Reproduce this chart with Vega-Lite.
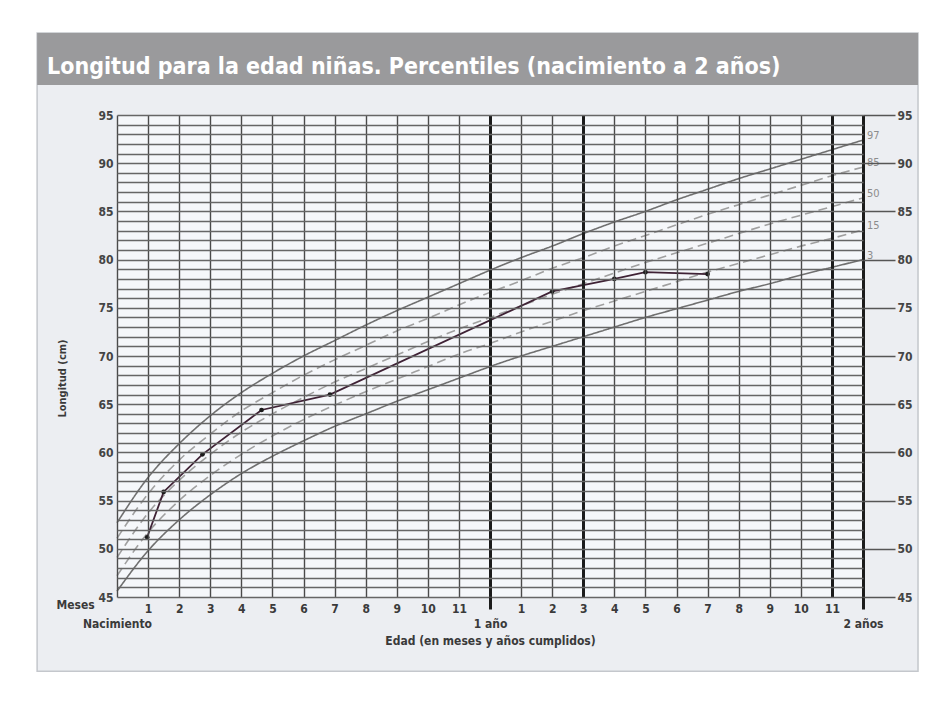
{
  "$schema": "https://vega.github.io/schema/vega-lite/v6.json",
  "width": 746,
  "height": 482,
  "autosize": {"type": "none"},
  "padding": {"left": 117, "top": 115, "right": 63, "bottom": 123},
  "background": "#ffffff",
  "view": {"stroke": null},
  "config": {
    "font": "Liberation Sans Narrow, DejaVu Sans Condensed, sans-serif"
  },
  "title": {
    "text": "Longitud para la edad niñas. Percentiles (nacimiento a 2 años)",
    "color": "#ffffff",
    "fontSize": 23,
    "fontWeight": "bold",
    "font": "Liberation Sans Narrow, DejaVu Sans Condensed, sans-serif",
    "anchor": "start",
    "frame": "group",
    "baseline": "alphabetic",
    "dx": -70,
    "dy": 65,
    "offset": 0
  },
  "datasets": {
    "curves": [
      {"pct": "3", "month": 0, "cm": 45.6}, {"pct": "3", "month": 1, "cm": 49.8}, {"pct": "3", "month": 2, "cm": 53.0}, {"pct": "3", "month": 3, "cm": 55.6}, {"pct": "3", "month": 4, "cm": 57.8}, {"pct": "3", "month": 5, "cm": 59.6}, {"pct": "3", "month": 6, "cm": 61.2}, {"pct": "3", "month": 7, "cm": 62.7}, {"pct": "3", "month": 8, "cm": 64.0}, {"pct": "3", "month": 9, "cm": 65.3}, {"pct": "3", "month": 10, "cm": 66.5}, {"pct": "3", "month": 11, "cm": 67.7}, {"pct": "3", "month": 12, "cm": 68.9}, {"pct": "3", "month": 13, "cm": 70.0}, {"pct": "3", "month": 14, "cm": 71.0}, {"pct": "3", "month": 15, "cm": 72.0}, {"pct": "3", "month": 16, "cm": 73.0}, {"pct": "3", "month": 17, "cm": 74.0}, {"pct": "3", "month": 18, "cm": 74.9}, {"pct": "3", "month": 19, "cm": 75.8}, {"pct": "3", "month": 20, "cm": 76.7}, {"pct": "3", "month": 21, "cm": 77.5}, {"pct": "3", "month": 22, "cm": 78.4}, {"pct": "3", "month": 23, "cm": 79.2}, {"pct": "3", "month": 24, "cm": 80.0},
      {"pct": "15", "month": 0, "cm": 47.2}, {"pct": "15", "month": 1, "cm": 51.7}, {"pct": "15", "month": 2, "cm": 55.0}, {"pct": "15", "month": 3, "cm": 57.6}, {"pct": "15", "month": 4, "cm": 59.8}, {"pct": "15", "month": 5, "cm": 61.7}, {"pct": "15", "month": 6, "cm": 63.4}, {"pct": "15", "month": 7, "cm": 64.9}, {"pct": "15", "month": 8, "cm": 66.3}, {"pct": "15", "month": 9, "cm": 67.6}, {"pct": "15", "month": 10, "cm": 68.9}, {"pct": "15", "month": 11, "cm": 70.2}, {"pct": "15", "month": 12, "cm": 71.3}, {"pct": "15", "month": 13, "cm": 72.5}, {"pct": "15", "month": 14, "cm": 73.6}, {"pct": "15", "month": 15, "cm": 74.7}, {"pct": "15", "month": 16, "cm": 75.7}, {"pct": "15", "month": 17, "cm": 76.7}, {"pct": "15", "month": 18, "cm": 77.7}, {"pct": "15", "month": 19, "cm": 78.7}, {"pct": "15", "month": 20, "cm": 79.6}, {"pct": "15", "month": 21, "cm": 80.5}, {"pct": "15", "month": 22, "cm": 81.4}, {"pct": "15", "month": 23, "cm": 82.2}, {"pct": "15", "month": 24, "cm": 83.1},
      {"pct": "50", "month": 0, "cm": 49.1}, {"pct": "50", "month": 1, "cm": 53.7}, {"pct": "50", "month": 2, "cm": 57.1}, {"pct": "50", "month": 3, "cm": 59.8}, {"pct": "50", "month": 4, "cm": 62.1}, {"pct": "50", "month": 5, "cm": 64.0}, {"pct": "50", "month": 6, "cm": 65.7}, {"pct": "50", "month": 7, "cm": 67.3}, {"pct": "50", "month": 8, "cm": 68.7}, {"pct": "50", "month": 9, "cm": 70.1}, {"pct": "50", "month": 10, "cm": 71.5}, {"pct": "50", "month": 11, "cm": 72.8}, {"pct": "50", "month": 12, "cm": 74.0}, {"pct": "50", "month": 13, "cm": 75.2}, {"pct": "50", "month": 14, "cm": 76.4}, {"pct": "50", "month": 15, "cm": 77.5}, {"pct": "50", "month": 16, "cm": 78.6}, {"pct": "50", "month": 17, "cm": 79.7}, {"pct": "50", "month": 18, "cm": 80.7}, {"pct": "50", "month": 19, "cm": 81.7}, {"pct": "50", "month": 20, "cm": 82.7}, {"pct": "50", "month": 21, "cm": 83.7}, {"pct": "50", "month": 22, "cm": 84.6}, {"pct": "50", "month": 23, "cm": 85.5}, {"pct": "50", "month": 24, "cm": 86.4},
      {"pct": "85", "month": 0, "cm": 51.1}, {"pct": "85", "month": 1, "cm": 55.7}, {"pct": "85", "month": 2, "cm": 59.2}, {"pct": "85", "month": 3, "cm": 61.9}, {"pct": "85", "month": 4, "cm": 64.3}, {"pct": "85", "month": 5, "cm": 66.2}, {"pct": "85", "month": 6, "cm": 68.0}, {"pct": "85", "month": 7, "cm": 69.6}, {"pct": "85", "month": 8, "cm": 71.1}, {"pct": "85", "month": 9, "cm": 72.6}, {"pct": "85", "month": 10, "cm": 73.9}, {"pct": "85", "month": 11, "cm": 75.3}, {"pct": "85", "month": 12, "cm": 76.6}, {"pct": "85", "month": 13, "cm": 77.8}, {"pct": "85", "month": 14, "cm": 79.1}, {"pct": "85", "month": 15, "cm": 80.2}, {"pct": "85", "month": 16, "cm": 81.4}, {"pct": "85", "month": 17, "cm": 82.5}, {"pct": "85", "month": 18, "cm": 83.6}, {"pct": "85", "month": 19, "cm": 84.7}, {"pct": "85", "month": 20, "cm": 85.7}, {"pct": "85", "month": 21, "cm": 86.7}, {"pct": "85", "month": 22, "cm": 87.7}, {"pct": "85", "month": 23, "cm": 88.7}, {"pct": "85", "month": 24, "cm": 89.6},
      {"pct": "97", "month": 0, "cm": 52.7}, {"pct": "97", "month": 1, "cm": 57.4}, {"pct": "97", "month": 2, "cm": 60.9}, {"pct": "97", "month": 3, "cm": 63.8}, {"pct": "97", "month": 4, "cm": 66.2}, {"pct": "97", "month": 5, "cm": 68.2}, {"pct": "97", "month": 6, "cm": 70.0}, {"pct": "97", "month": 7, "cm": 71.6}, {"pct": "97", "month": 8, "cm": 73.2}, {"pct": "97", "month": 9, "cm": 74.7}, {"pct": "97", "month": 10, "cm": 76.1}, {"pct": "97", "month": 11, "cm": 77.5}, {"pct": "97", "month": 12, "cm": 78.9}, {"pct": "97", "month": 13, "cm": 80.2}, {"pct": "97", "month": 14, "cm": 81.4}, {"pct": "97", "month": 15, "cm": 82.7}, {"pct": "97", "month": 16, "cm": 83.9}, {"pct": "97", "month": 17, "cm": 85.0}, {"pct": "97", "month": 18, "cm": 86.2}, {"pct": "97", "month": 19, "cm": 87.3}, {"pct": "97", "month": 20, "cm": 88.4}, {"pct": "97", "month": 21, "cm": 89.4}, {"pct": "97", "month": 22, "cm": 90.4}, {"pct": "97", "month": 23, "cm": 91.4}, {"pct": "97", "month": 24, "cm": 92.4}
    ],
    "child": [
      {"month": 0.97, "cm": 51.2},
      {"month": 1.5, "cm": 55.9},
      {"month": 2.75, "cm": 59.8},
      {"month": 4.65, "cm": 64.4},
      {"month": 6.85, "cm": 66.0},
      {"month": 14.0, "cm": 76.7},
      {"month": 16.0, "cm": 78.0},
      {"month": 17.0, "cm": 78.7},
      {"month": 19.0, "cm": 78.5}
    ]
  },
  "resolve": {"axis": {"x": "independent", "y": "independent"}},
  "layer": [
    {
      "data": {"values": [{}]},
      "mark": {"type": "rect", "fill": "#eceef2", "stroke": "#c4c7cc", "strokeWidth": 1.5},
      "encoding": {
        "x": {"datum": -2.57, "type": "quantitative", "scale": {"domain": [0, 24], "nice": false, "zero": false}, "axis": null},
        "x2": {"datum": 25.77},
        "y": {"datum": 103.5, "type": "quantitative", "scale": {"domain": [45, 95], "nice": false, "zero": false}, "axis": null},
        "y2": {"datum": 37.3}
      }
    },
    {
      "data": {"values": [{}]},
      "mark": {"type": "rect", "fill": "#9a9a9c"},
      "encoding": {
        "x": {"datum": -2.57, "type": "quantitative", "scale": {"domain": [0, 24], "nice": false, "zero": false}, "axis": null},
        "x2": {"datum": 25.77},
        "y": {"datum": 103.5, "type": "quantitative", "scale": {"domain": [45, 95], "nice": false, "zero": false}, "axis": null},
        "y2": {"datum": 98.1}
      }
    },
    {
      "data": {"values": [{}]},
      "mark": {"type": "rect", "fill": "#f5f7fa"},
      "encoding": {
        "x": {"datum": 0, "type": "quantitative", "scale": {"domain": [0, 24], "nice": false, "zero": false}, "axis": null},
        "x2": {"datum": 24},
        "y": {"datum": 95, "type": "quantitative", "scale": {"domain": [45, 95], "nice": false, "zero": false}, "axis": null},
        "y2": {"datum": 45}
      }
    },
    {
      "data": {"name": "curves"},
      "mark": {"type": "line", "interpolate": "monotone", "strokeWidth": 1.6},
      "encoding": {
        "x": {
          "field": "month", "type": "quantitative",
          "scale": {"domain": [0, 24], "nice": false, "zero": false},
          "axis": {
            "zindex": 1,
            "values": [0,1,2,3,4,5,6,7,8,9,10,11,12,13,14,15,16,17,18,19,20,21,22,23,24],
            "domain": false,
            "grid": true,
            "gridColor": {"condition": {"test": "datum.value == 12 || datum.value == 15 || datum.value == 23 || datum.value == 24", "value": "#1c1c1c"}, "value": "#4a4a4a"},
            "gridWidth": {"condition": {"test": "datum.value == 12 || datum.value == 15 || datum.value == 23 || datum.value == 24", "value": 3}, "value": 1.4},
            "ticks": true,
            "tickSize": 12,
            "tickWidth": 3,
            "tickColor": "#1c1c1c",
            "tickOpacity": {"condition": {"test": "datum.value == 12 || datum.value == 24", "value": 1}, "value": 0},
            "labelExpr": "datum.value == 0 ? ['', 'Nacimiento'] : datum.value == 12 ? ['', '1 año'] : datum.value == 24 ? ['', '2 años'] : '' + (datum.value % 12)",
            "labelPadding": -6,
            "labelLineHeight": 15,
            "labelFontSize": 12,
            "labelFontWeight": "bold",
            "labelColor": "#3a3a3a",
            "labelFlush": false,
            "labelOverlap": false,
            "title": "Edad (en meses y años cumplidos)",
            "titleFontSize": 12,
            "titleFontWeight": "bold",
            "titleColor": "#3a3a3a",
            "titlePadding": 6
          }
        },
        "y": {
          "field": "cm", "type": "quantitative",
          "scale": {"domain": [45, 95], "nice": false, "zero": false},
          "axis": {
            "zindex": 1,
            "orient": "left",
            "values": [45,46,47,48,49,50,51,52,53,54,55,56,57,58,59,60,61,62,63,64,65,66,67,68,69,70,71,72,73,74,75,76,77,78,79,80,81,82,83,84,85,86,87,88,89,90,91,92,93,94,95],
            "domain": false,
            "ticks": false,
            "grid": true,
            "gridColor": "#666666",
            "gridWidth": 1.3,
            "labelExpr": "datum.value % 5 == 0 ? datum.label : ''",
            "labelPadding": 4,
            "labelFontSize": 12,
            "labelFontWeight": "bold",
            "labelColor": "#444444",
            "labelOverlap": false,
            "title": "Longitud (cm)",
            "titleFontSize": 11,
            "titleFontWeight": "bold",
            "titleColor": "#3a3a3a",
            "titleX": -55,
            "titleY": 263,
            "titleAngle": -90,
            "titleBaseline": "middle",
            "titleAlign": "center"
          }
        },
        "detail": {"field": "pct", "type": "nominal"},
        "color": {"field": "pct", "type": "nominal", "legend": null, "scale": {"domain": ["3", "15", "50", "85", "97"], "range": ["#707070", "#a0a0a0", "#a0a0a0", "#a0a0a0", "#707070"]}},
        "strokeDash": {"field": "pct", "type": "nominal", "legend": null, "scale": {"domain": ["3", "15", "50", "85", "97"], "range": [[1, 0], [9, 5], [9, 5], [9, 5], [1, 0]]}}
      }
    },
    {
      "data": {"name": "curves"},
      "transform": [{"filter": "datum.month == 24"}],
      "mark": {"type": "text", "align": "left", "baseline": "middle", "dx": 4, "dy": -4, "fontSize": 11, "color": "#8c8c8c"},
      "encoding": {
        "x": {"field": "month", "type": "quantitative", "scale": {"domain": [0, 24], "nice": false, "zero": false}, "axis": null},
        "y": {"field": "cm", "type": "quantitative", "scale": {"domain": [45, 95], "nice": false, "zero": false}, "axis": null},
        "text": {"field": "pct", "type": "nominal"}
      }
    },
    {
      "data": {"name": "child"},
      "mark": {"type": "line", "color": "#3f2235", "strokeWidth": 1.8},
      "encoding": {
        "x": {"field": "month", "type": "quantitative", "scale": {"domain": [0, 24], "nice": false, "zero": false}, "axis": null},
        "y": {"field": "cm", "type": "quantitative", "scale": {"domain": [45, 95], "nice": false, "zero": false}, "axis": null}
      }
    },
    {
      "data": {"name": "child"},
      "mark": {"type": "point", "filled": true, "color": "#1a1a1a", "size": 22, "opacity": 1},
      "encoding": {
        "x": {"field": "month", "type": "quantitative", "scale": {"domain": [0, 24], "nice": false, "zero": false}, "axis": null},
        "y": {
          "field": "cm", "type": "quantitative",
          "scale": {"domain": [45, 95], "nice": false, "zero": false},
          "axis": {
            "zindex": 1,
            "orient": "right",
            "values": [45, 50, 55, 60, 65, 70, 75, 80, 85, 90, 95],
            "domain": false,
            "grid": false,
            "ticks": true,
            "tickSize": 32,
            "tickWidth": 1.3,
            "tickColor": "#555555",
            "labelPadding": 2,
            "labelFontSize": 12,
            "labelFontWeight": "bold",
            "labelColor": "#444444",
            "labelOverlap": false,
            "title": null
          }
        }
      }
    },
    {
      "data": {"values": [{}]},
      "mark": {"type": "text", "text": "Meses", "fontSize": 12, "fontWeight": "bold", "color": "#3a3a3a", "align": "center", "baseline": "middle"},
      "encoding": {
        "x": {"datum": -1.33, "type": "quantitative", "scale": {"domain": [0, 24], "nice": false, "zero": false}, "axis": null},
        "y": {"datum": 44.2, "type": "quantitative", "scale": {"domain": [45, 95], "nice": false, "zero": false}, "axis": null}
      }
    }
  ]
}
